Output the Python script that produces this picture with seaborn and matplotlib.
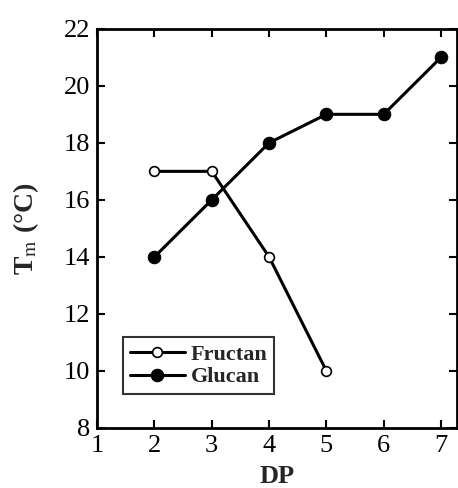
import seaborn as sns
import matplotlib.pyplot as plt
import pandas as pd

# ---------- donnees ----------
dp_fructan = [2, 3, 4, 5]
tm_fructan = [17, 17, 14, 10]
dp_glucan = [2, 3, 4, 5, 6, 7]
tm_glucan = [14, 16, 18, 19, 19, 21]

sns.set_theme(style='ticks')
plt.rcParams['font.family'] = ['Liberation Serif', 'DejaVu Serif']
plt.rcParams['mathtext.fontset'] = 'stix'

fig = plt.figure(figsize=(4.58, 4.88), dpi=100)
ax = fig.add_axes([0.212, 0.123, 0.786, 0.818])

fru = pd.DataFrame({'DP': dp_fructan, 'Tm': tm_fructan})
glu = pd.DataFrame({'DP': dp_glucan, 'Tm': tm_glucan})

sns.lineplot(data=fru, x='DP', y='Tm', ax=ax, color='black', lw=2.2,
             marker='o', markersize=7, markerfacecolor='white',
             markeredgecolor='black', markeredgewidth=1.2, label='Fructan')
sns.lineplot(data=glu, x='DP', y='Tm', ax=ax, color='black', lw=2.2,
             marker='o', markersize=9, markerfacecolor='black',
             markeredgecolor='black', label='Glucan')

ax.set_xlim(1, 7.28)
ax.set_ylim(8, 22)
ax.set_xticks(range(1, 8))
ax.set_yticks(range(8, 23, 2))
ax.tick_params(direction='in', top=True, right=True, length=6, width=1.5,
               labelsize=19, colors='black', pad=5)
for s in ax.spines.values():
    s.set_linewidth(2)
    s.set_color('black')

ax.set_xlabel('DP', fontsize=19, fontweight='bold', labelpad=6)
ax.set_ylabel(r'T$_{\mathrm{m}}$ (°C)', fontsize=20, fontweight='bold', labelpad=16)

leg = ax.legend(loc='lower left', bbox_to_anchor=(0.072, 0.085),
                prop={'weight': 'bold', 'size': 16}, frameon=True, fancybox=False,
                edgecolor='black', handlelength=2.5, borderpad=0.3,
                labelspacing=0.1, handletextpad=0.25, borderaxespad=0)
leg.get_frame().set_linewidth(1.5)

plt.savefig('out.png', dpi=100)
plt.close()
